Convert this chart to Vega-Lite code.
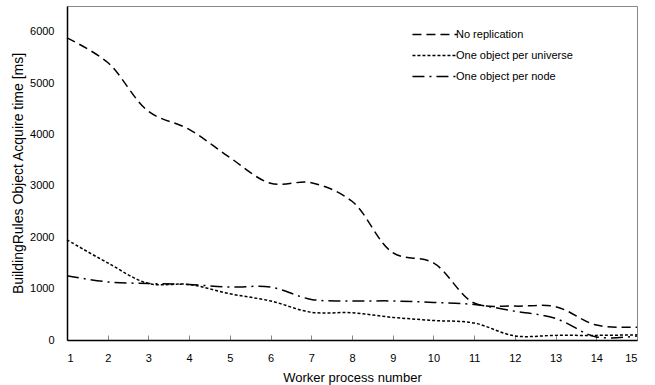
{
  "$schema": "https://vega.github.io/schema/vega-lite/v6.json",
  "width": 570,
  "height": 334,
  "autosize": {"type": "none"},
  "padding": {"left": 67, "top": 6, "right": 18, "bottom": 45},
  "background": "white",
  "config": {
    "font": "Liberation Sans",
    "view": {"stroke": "#888888", "strokeWidth": 1}
  },
  "data": {
    "values": [
      {"w": 1, "s": "No replication", "t": 5880},
      {"w": 2, "s": "No replication", "t": 5400},
      {"w": 3, "s": "No replication", "t": 4450},
      {"w": 4, "s": "No replication", "t": 4100},
      {"w": 5, "s": "No replication", "t": 3550},
      {"w": 6, "s": "No replication", "t": 3050},
      {"w": 7, "s": "No replication", "t": 3060},
      {"w": 8, "s": "No replication", "t": 2700},
      {"w": 9, "s": "No replication", "t": 1700},
      {"w": 10, "s": "No replication", "t": 1500},
      {"w": 11, "s": "No replication", "t": 720},
      {"w": 12, "s": "No replication", "t": 660},
      {"w": 13, "s": "No replication", "t": 650},
      {"w": 14, "s": "No replication", "t": 290},
      {"w": 15, "s": "No replication", "t": 250},
      {"w": 1, "s": "One object per universe", "t": 1950},
      {"w": 2, "s": "One object per universe", "t": 1500},
      {"w": 3, "s": "One object per universe", "t": 1100},
      {"w": 4, "s": "One object per universe", "t": 1080},
      {"w": 5, "s": "One object per universe", "t": 900},
      {"w": 6, "s": "One object per universe", "t": 760},
      {"w": 7, "s": "One object per universe", "t": 540},
      {"w": 8, "s": "One object per universe", "t": 530},
      {"w": 9, "s": "One object per universe", "t": 440},
      {"w": 10, "s": "One object per universe", "t": 380},
      {"w": 11, "s": "One object per universe", "t": 330},
      {"w": 12, "s": "One object per universe", "t": 80},
      {"w": 13, "s": "One object per universe", "t": 90},
      {"w": 14, "s": "One object per universe", "t": 90},
      {"w": 15, "s": "One object per universe", "t": 100},
      {"w": 1, "s": "One object per node", "t": 1250},
      {"w": 2, "s": "One object per node", "t": 1130},
      {"w": 3, "s": "One object per node", "t": 1100},
      {"w": 4, "s": "One object per node", "t": 1080},
      {"w": 5, "s": "One object per node", "t": 1030},
      {"w": 6, "s": "One object per node", "t": 1030},
      {"w": 7, "s": "One object per node", "t": 790},
      {"w": 8, "s": "One object per node", "t": 760},
      {"w": 9, "s": "One object per node", "t": 760},
      {"w": 10, "s": "One object per node", "t": 730},
      {"w": 11, "s": "One object per node", "t": 690},
      {"w": 12, "s": "One object per node", "t": 560},
      {"w": 13, "s": "One object per node", "t": 420},
      {"w": 14, "s": "One object per node", "t": 60},
      {"w": 15, "s": "One object per node", "t": 80}
    ]
  },
  "mark": {"type": "line", "interpolate": "catmull-rom", "color": "black", "strokeWidth": 1.5},
  "encoding": {
    "x": {
      "field": "w", "type": "quantitative",
      "scale": {"domain": [1, 15], "nice": false, "zero": false},
      "axis": {
        "title": "Worker process number", "values": [1,2,3,4,5,6,7,8,9,10,11,12,13,14,15],
        "format": "d",
        "grid": false, "domainColor": "black", "domainWidth": 1.5,
        "tickColor": "#888888", "tickSize": -5, "labelPadding": 17,
        "labelFontSize": 11, "labelColor": "black", "titleFontSize": 13,
        "titleFontWeight": "normal", "titleColor": "black", "titlePadding": 8
      }
    },
    "y": {
      "field": "t", "type": "quantitative",
      "scale": {"domain": [0, 6500], "nice": false},
      "axis": {
        "title": "BuildingRules Object Acquire time [ms]", "values": [0,1000,2000,3000,4000,5000,6000],
        "format": "d",
        "grid": false, "domainColor": "black", "domainWidth": 1.5,
        "ticks": false, "labelPadding": 13,
        "labelFontSize": 11, "labelColor": "black", "titleFontSize": 14,
        "titleFontWeight": "normal", "titleColor": "black", "titlePadding": 4
      }
    },
    "strokeDash": {
      "field": "s", "type": "nominal",
      "scale": {
        "domain": ["No replication", "One object per universe", "One object per node"],
        "range": [[9, 5], [3, 2], [12, 5, 2, 5]]
      },
      "legend": {
        "title": null, "orient": "none", "legendX": 355, "legendY": 19,
        "symbolType": "M-2.2,0H3", "symbolStrokeColor": "black", "symbolStrokeWidth": 1.5,
        "symbolSize": 300, "labelFontSize": 11, "labelColor": "black",
        "rowPadding": 6, "labelOffset": 15, "padding": 0
      }
    }
  }
}
